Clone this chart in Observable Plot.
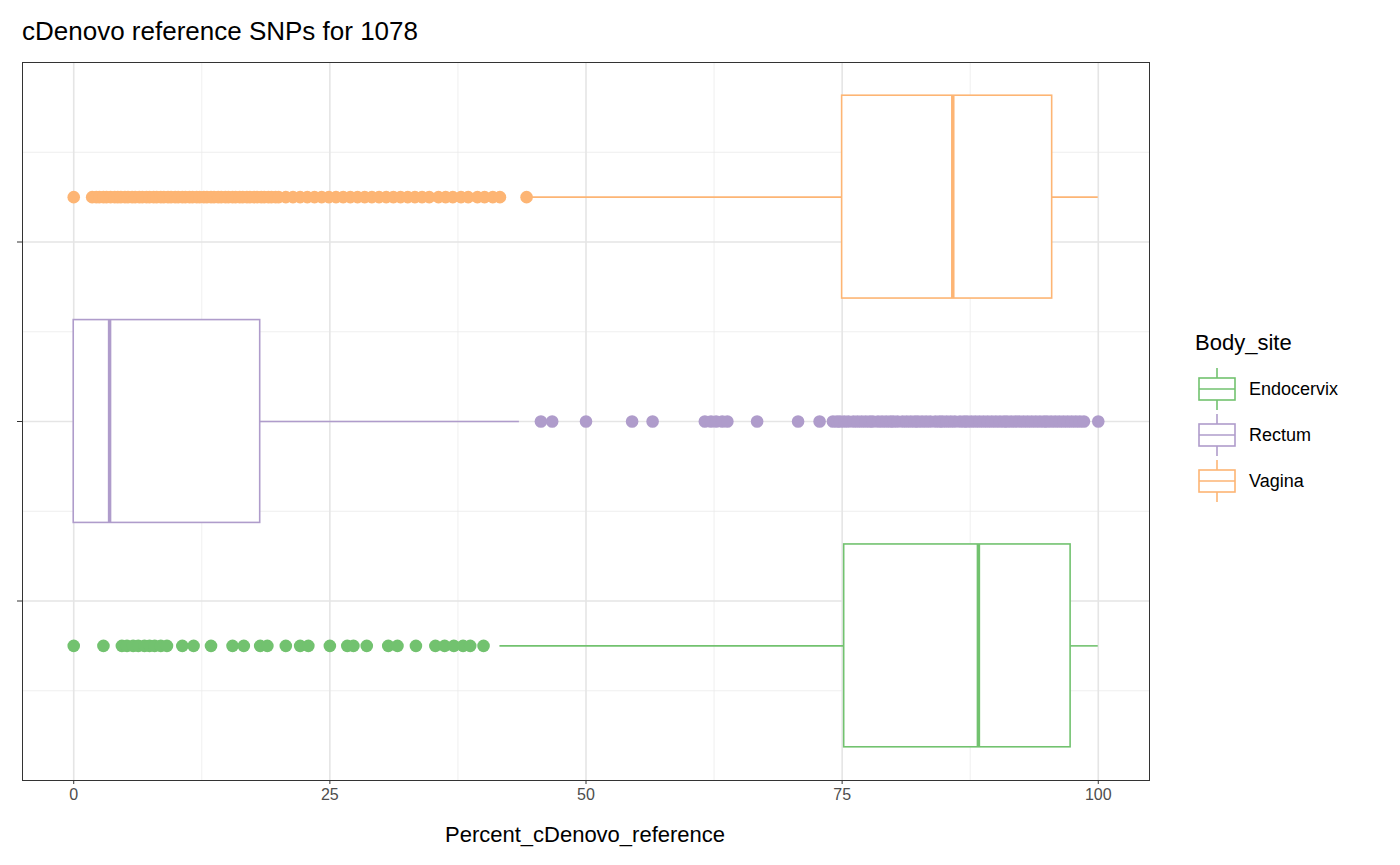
<!DOCTYPE html>
<html><head><meta charset="utf-8">
<script src="https://cdn.jsdelivr.net/npm/d3@7"></script>
<script src="https://cdn.jsdelivr.net/npm/@observablehq/plot@0.6"></script>
<style>
body{margin:0;background:#fff;font-family:"Liberation Sans",Arial,sans-serif;}
#wrap{position:relative;width:1400px;height:865px;}
#title{height:50px;font-size:26px;padding-left:22px;line-height:62px;color:#000;}
#legend{position:absolute;left:1195px;top:330px;font-size:19px;}
</style></head>
<body><div id="wrap"><div id="title">cDenovo reference SNPs for 1078</div><div id="chart"></div><div id="legend"></div></div>
<script>
const sites = ["Endocervix", "Rectum", "Vagina"];
const colors = ["#72C26F", "#AF9CCB", "#FDB574"];
const yPos = [-1.25, 0, 1.25];
const q1 = [75.2, 0, 75.0];
const med = [88.3, 3.5, 85.8];
const q3 = [97.3, 18.2, 95.5];
const wLo = [41.6, 0, 44.5];
const wHi = [100, 43.5, 100];
const outEndo = [0, 2.9, 4.7, 5.2, 5.8, 6.3, 6.9, 7.4, 7.9, 8.5, 9.1, 10.6, 11.7, 13.4, 15.5, 16.6, 18.2, 18.9, 20.7, 22.1, 22.9, 25.0, 26.7, 27.3, 28.6, 30.7, 31.6, 33.4, 35.3, 36.2, 37.1, 38.0, 38.7, 40.0];
const outRect = [45.6, 46.7, 50.0, 54.5, 56.5, 61.6, 62.2, 62.7, 63.3, 63.8, 66.7, 70.7, 72.8, 74.1, 74.5, 74.8, 75.2, 75.6, 76.1, 76.5, 76.9, 77.3, 77.7, 78.0, 78.5, 78.9, 79.3, 79.7, 80.0, 80.4, 80.9, 81.3, 81.7, 82.1, 82.4, 82.8, 83.2, 83.6, 84.1, 84.5, 84.8, 85.2, 85.6, 86.0, 86.5, 86.9, 87.2, 87.6, 88.0, 88.4, 88.8, 89.2, 89.6, 90.0, 90.4, 90.8, 91.1, 91.5, 91.9, 92.3, 92.7, 93.1, 93.5, 93.9, 94.3, 94.7, 95.0, 95.4, 95.8, 96.2, 96.6, 97.0, 97.4, 97.8, 98.2, 98.6, 100];
const outVag = [0, 1.8, 2.2, 2.5, 2.9, 3.2, 3.6, 4.0, 4.3, 4.6, 5.0, 5.3, 5.7, 6.0, 6.4, 6.7, 7.1, 7.4, 7.8, 8.1, 8.5, 8.8, 9.2, 9.5, 9.9, 10.2, 10.6, 10.9, 11.3, 11.6, 12.0, 12.3, 12.7, 13.0, 13.4, 13.7, 14.1, 14.4, 14.8, 15.1, 15.5, 15.8, 16.2, 16.5, 16.9, 17.2, 17.6, 17.9, 18.3, 18.6, 19.0, 19.3, 19.7, 20.0, 20.7, 21.4, 22.1, 22.8, 23.5, 24.2, 24.9, 25.6, 26.3, 27.0, 27.7, 28.4, 29.1, 29.8, 30.5, 31.2, 31.9, 32.6, 33.3, 34.0, 34.7, 35.6, 36.3, 37.0, 37.8, 38.5, 39.4, 40.1, 40.9, 41.6, 44.2];
const xTicks = [0, 25, 50, 75, 100];

const boxes = sites.map((s, i) => ({site: s, color: colors[i], y: yPos[i], q1: q1[i], med: med[i], q3: q3[i], lo: wLo[i], hi: wHi[i]}));
const outs = [outEndo, outRect, outVag].flatMap((arr, i) => arr.map(v => ({x: v, y: yPos[i], color: colors[i]})));
const H = 0.565;

const chart = Plot.plot({
  width: 1400, height: 815,
  marginLeft: 22, marginRight: 251, marginTop: 12, marginBottom: 85,
  style: {fontFamily: "Liberation Sans, Arial, sans-serif", fontSize: "16px", color: "#4D4D4D", background: "#fff"},
  x: {domain: [-5, 105], ticks: xTicks, tickSize: 4, label: null, tickPadding: 4},
  y: {domain: [-2, 2], ticks: [-1, 0, 1], tickFormat: () => "", tickSize: 5, label: null},
  marks: [
    Plot.ruleX([12.5, 37.5, 62.5, 87.5], {stroke: "#EBEBEB", strokeWidth: 0.8}),
    Plot.ruleY([-1.5, -0.5, 0.5, 1.5], {stroke: "#EBEBEB", strokeWidth: 0.8}),
    Plot.ruleX(xTicks, {stroke: "#E5E5E5", strokeWidth: 1.6}),
    Plot.ruleY([-1, 0, 1], {stroke: "#E5E5E5", strokeWidth: 1.6}),
    Plot.ruleY(boxes, {y: "y", x1: "lo", x2: "q1", stroke: "color", strokeWidth: 1.6}),
    Plot.ruleY(boxes, {y: "y", x1: "q3", x2: "hi", stroke: "color", strokeWidth: 1.6}),
    Plot.rect(boxes, {x1: "q1", x2: "q3", y1: d => d.y - H, y2: d => d.y + H, fill: "white", stroke: "color", strokeWidth: 1.6}),
    Plot.ruleX(boxes, {x: "med", y1: d => d.y - H, y2: d => d.y + H, stroke: "color", strokeWidth: 3.5}),
    Plot.dot(outs, {x: "x", y: "y", r: 6.3, fill: "color", stroke: "none"}),
    Plot.frame({stroke: "#333", strokeWidth: 1})
  ]
});
document.getElementById("chart").appendChild(chart);
d3.select(chart).selectAll("[aria-label='x-axis tick'] path, [aria-label='y-axis tick'] path").attr("stroke", "#333");

const svg = d3.select(chart);
svg.append("text").attr("x", 585).attr("y", 792).attr("text-anchor", "middle")
  .attr("font-size", 22).attr("fill", "#000").text("Percent_cDenovo_reference");

const lg = d3.select("#legend");
lg.append("div").style("font-size", "22px").style("margin-bottom", "10px").text("Body_site");
sites.forEach((s, i) => {
  const row = lg.append("div").style("display", "flex").style("align-items", "center").style("height", "46px");
  const k = row.append("svg").attr("width", 44).attr("height", 46);
  k.append("line").attr("x1", 22).attr("x2", 22).attr("y1", 2).attr("y2", 44).attr("stroke", colors[i]).attr("stroke-width", 1.6);
  k.append("rect").attr("x", 4).attr("y", 12).attr("width", 36).attr("height", 22).attr("fill", "#fff").attr("stroke", colors[i]).attr("stroke-width", 1.6);
  k.append("line").attr("x1", 4).attr("x2", 40).attr("y1", 23).attr("y2", 23).attr("stroke", colors[i]).attr("stroke-width", 1.6);
  row.append("span").style("margin-left", "10px").style("font-size", "18px").style("color", "#000").text(s);
});
</script></body></html>
